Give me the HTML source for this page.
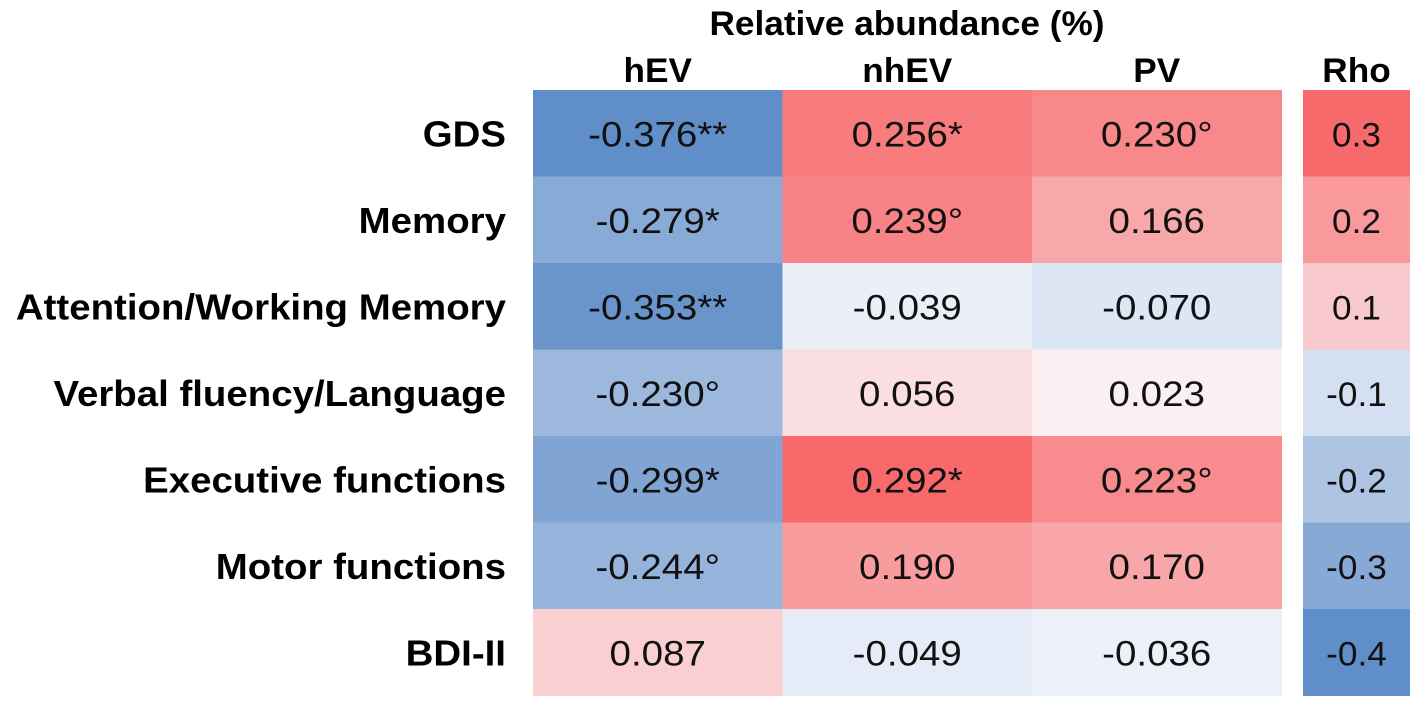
<!DOCTYPE html>
<html><head><meta charset="utf-8"><style>
body{margin:0;width:1418px;height:708px;background:#fff;overflow:hidden;font-family:"Liberation Sans",sans-serif}
svg text{font-family:"Liberation Sans",sans-serif}
</style></head><body>
<svg id="chart" width="1418" height="708" xmlns="http://www.w3.org/2000/svg"></svg>
<script>
const rows = ["GDS","Memory","Attention/Working Memory","Verbal fluency/Language","Executive functions","Motor functions","BDI-II"];
const cols = ["hEV","nhEV","PV"];
const hEV = [-0.376,-0.279,-0.353,-0.230,-0.299,-0.244,0.087];
const nhEV = [0.256,0.239,-0.039,0.056,0.292,0.190,-0.049];
const PV = [0.230,0.166,-0.070,0.023,0.223,0.170,-0.036];
const hEVSig = ["**","*","**","°","*","°",""];
const nhEVSig = ["*","°","","","*","",""];
const PVSig = ["°","","","","°","",""];
const rho = [0.3,0.2,0.1,-0.1,-0.2,-0.3,-0.4];

const svg = document.getElementById('chart');
const NS = "http://www.w3.org/2000/svg";
const x0 = 533, colW = 249.5, y0 = 90, rowH = 86.5;
const rhoX = 1303, rhoW = 107;
function xCol(i){return x0 + i*colW;}
function yRow(i){return y0 + i*rowH;}
function lerp(a,b,t){return Math.round(a+(b-a)*t);}
function color(v,min,max){
  const blue=[96,142,200], white=[250,250,254], red=[248,105,107];
  let c;
  if(v<0){const t=Math.min(1,v/min); c=white.map((w,k)=>lerp(w,blue[k],t));}
  else {const t=Math.min(1,v/max); c=white.map((w,k)=>lerp(w,red[k],t));}
  return `rgb(${c[0]},${c[1]},${c[2]})`;
}
function el(tag, attrs, text){
  const e=document.createElementNS(NS,tag);
  for(const k in attrs) e.setAttribute(k,attrs[k]);
  if(text!==undefined) e.textContent=text;
  svg.appendChild(e); return e;
}
function stretch(e,f){
  const L=e.getComputedTextLength();
  e.setAttribute('textLength',(L*f).toFixed(1));
  e.setAttribute('lengthAdjust','spacingAndGlyphs');
}
const t1 = el('text',{x:907,y:35,'text-anchor':'middle','font-size':34,'font-weight':'bold',fill:'#000'},'Relative abundance (%)');


stretch(t1,1.035);
cols.forEach((c,i)=>{
  const t=el('text',{x:xCol(i)+colW/2,y:82,'text-anchor':'middle','font-size':34,'font-weight':'bold',fill:'#000'},c);
  
  
  stretch(t,1.035);
});
const tr=el('text',{x:rhoX+rhoW/2,y:82,'text-anchor':'middle','font-size':34,'font-weight':'bold',fill:'#000'},'Rho');


stretch(tr,1.035);
const data=[hEV,nhEV,PV], sigs=[hEVSig,nhEVSig,PVSig];
const mn=-0.376, mx=0.292;
rows.forEach((r,i)=>{
  const lab=el('text',{x:506,y:yRow(i)+rowH/2+13,'text-anchor':'end','font-size':36,'font-weight':'bold',fill:'#000'},r);
  
  
  stretch(lab,1.067);
  data.forEach((arr,j)=>{
    const v=arr[i];
    const rc=el('rect',{x:xCol(j),y:yRow(i),width:colW+0.5,height:rowH+0.5,fill:color(v,mn,mx)});
    
    
    const tx=el('text',{x:xCol(j)+colW/2,y:yRow(i)+rowH/2+13,'text-anchor':'middle','font-size':35,fill:'#111'},v.toFixed(3)+sigs[j][i]);
    
    
    stretch(tx,1.1);
  });
  const rr=el('rect',{x:rhoX,y:yRow(i),width:rhoW,height:rowH+0.5,fill:color(rho[i],-0.4,0.3)});
  
  
  const rt=el('text',{x:rhoX+rhoW/2,y:yRow(i)+rowH/2+13,'text-anchor':'middle','font-size':34,fill:'#111'},rho[i].toFixed(1));
  
  
  stretch(rt,1.035);
});
</script>
</body></html>
